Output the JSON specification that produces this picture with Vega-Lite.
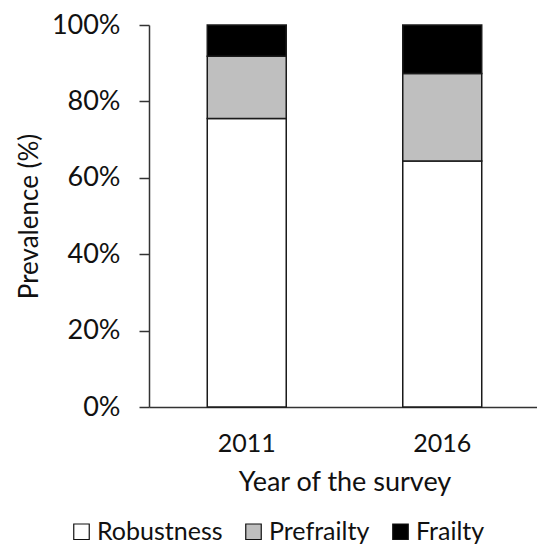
{
  "$schema": "https://vega.github.io/schema/vega-lite/v6.json",
  "width": 391,
  "height": 382,
  "autosize": {"type": "none"},
  "padding": {"left": 149, "top": 25, "right": 0, "bottom": 140},
  "background": "white",
  "config": {"view": {"stroke": null}, "font": "Lato"},
  "data": {
    "values": [
      {"year": "2011", "status": "Robustness", "value": 75.5, "rank": 1},
      {"year": "2011", "status": "Prefrailty", "value": 16.3, "rank": 2},
      {"year": "2011", "status": "Frailty", "value": 8.2, "rank": 3},
      {"year": "2016", "status": "Robustness", "value": 64.4, "rank": 1},
      {"year": "2016", "status": "Prefrailty", "value": 22.9, "rank": 2},
      {"year": "2016", "status": "Frailty", "value": 12.7, "rank": 3}
    ]
  },
  "mark": {"type": "bar", "stroke": "#1a1a1a", "strokeWidth": 1.5},
  "encoding": {
    "x": {
      "field": "year",
      "type": "nominal",
      "scale": {"paddingInner": 0.596, "paddingOuter": 0.298},
      "axis": {
        "title": "Year of the survey",
        "labelAngle": 0,
        "ticks": false,
        "labelPadding": 24,
        "labelFontSize": 25,
        "labelColor": "#111",
        "titleFontSize": 27,
        "titleFontWeight": "normal",
        "titleColor": "#111",
        "titlePadding": 13,
        "domainColor": "#333",
        "domainWidth": 1.5
      }
    },
    "y": {
      "field": "value",
      "type": "quantitative",
      "stack": "zero",
      "scale": {"domain": [0, 100], "nice": false},
      "axis": {
        "title": "Prevalence (%)",
        "values": [0, 20, 40, 60, 80, 100],
        "labelExpr": "datum.value + '%'",
        "grid": false,
        "tickSize": 10,
        "tickColor": "#333",
        "tickWidth": 1.5,
        "domainColor": "#333",
        "domainWidth": 1.5,
        "labelPadding": 19,
        "labelFontSize": 27,
        "labelColor": "#111",
        "titleFontSize": 26,
        "titleFontWeight": "normal",
        "titleColor": "#111",
        "titlePadding": 9
      }
    },
    "fill": {
      "field": "status",
      "type": "nominal",
      "scale": {
        "domain": ["Robustness", "Prefrailty", "Frailty"],
        "range": ["#ffffff", "#bfbfbf", "#000000"]
      },
      "legend": {
        "title": null,
        "orient": "none",
        "legendX": -80,
        "legendY": 494,
        "direction": "horizontal",
        "symbolType": "square",
        "symbolSize": 240,
        "symbolStrokeColor": "#111",
        "symbolStrokeWidth": 1.2,
        "symbolOpacity": 1,
        "labelFontSize": 25,
        "labelColor": "#111",
        "labelOffset": 3,
        "columnPadding": 18
      }
    },
    "order": {"field": "rank", "type": "quantitative", "sort": "ascending"}
  }
}
